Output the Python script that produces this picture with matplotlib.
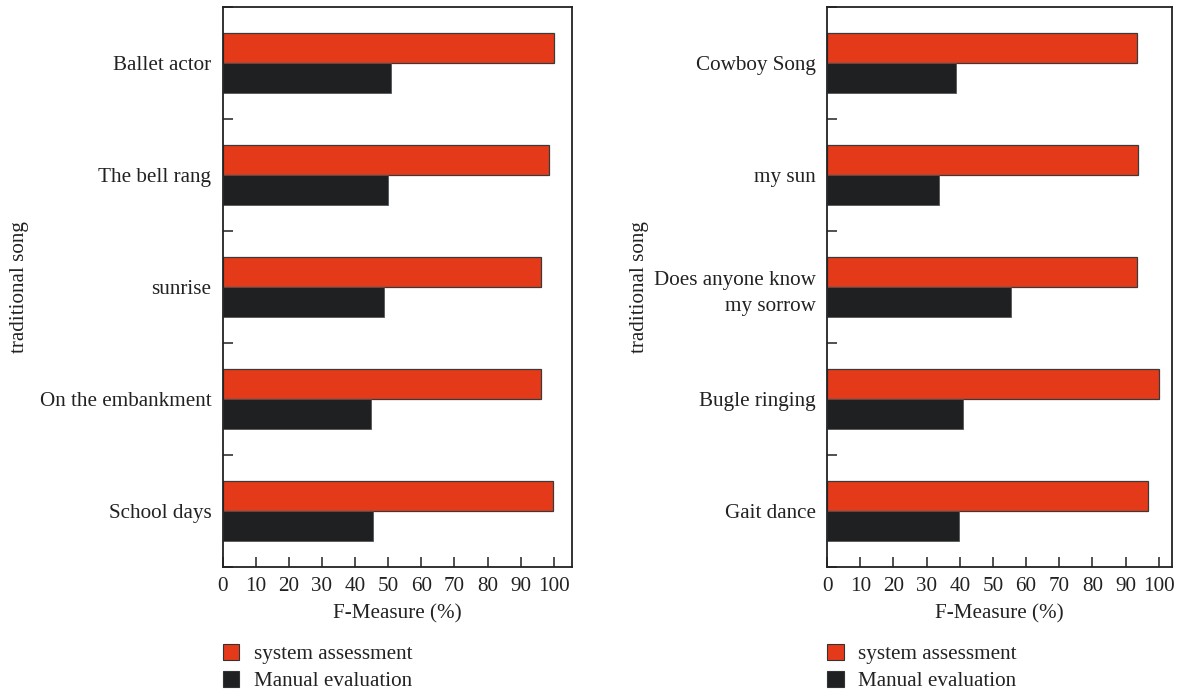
import matplotlib
matplotlib.use("Agg")
import matplotlib.pyplot as plt
import numpy as np
from matplotlib.patches import Patch

plt.rcParams['font.family'] = ['Liberation Serif', 'DejaVu Serif']

left_songs = ["Ballet actor", "The bell rang", "sunrise", "On the embankment", "School days"]
left_system = [100.0, 98.5, 96.2, 96.2, 99.7]
left_manual = [50.9, 50.1, 48.7, 44.7, 45.4]

right_songs = ["Cowboy Song", "my sun", "Does anyone know\nmy sorrow", "Bugle ringing", "Gait dance"]
right_system = [93.5, 93.9, 93.5, 100.0, 96.7]
right_manual = [38.9, 33.7, 55.4, 41.0, 39.7]

xticks = [0, 10, 20, 30, 40, 50, 60, 70, 80, 90, 100]
series_labels = ["system assessment", "Manual evaluation"]

RED = "#E53A19"
BLACK = "#1F2022"
FS = 15.2

fig = plt.figure(figsize=(11.79, 6.92), dpi=100)
axL = fig.add_axes([0.1888, 0.1806, 0.4854 - 0.1888, 0.8093])
axR = fig.add_axes([0.7016, 0.1806, 0.9943 - 0.7016, 0.8093])


def draw(ax, songs, sys_vals, man_vals, xmax, ylab_x):
    n = len(songs)
    y = np.arange(n)[::-1].astype(float)
    h = 0.268
    ax.barh(y + h / 2, sys_vals, height=h, color=RED, edgecolor="#3a3a3a", linewidth=0.9)
    ax.barh(y - h / 2, man_vals, height=h, color=BLACK, edgecolor="#555555", linewidth=0.6)
    ax.set_ylim(-0.5, n - 0.5)
    ax.set_xlim(0, xmax)
    ax.set_yticks(y)
    ax.set_yticklabels(songs, fontsize=FS, linespacing=1.55)
    ax.set_yticks(np.arange(n + 1) - 0.5, minor=True)
    ax.tick_params(axis='y', which='major', length=0, pad=8)
    ax.tick_params(axis='y', which='minor', direction='in', length=7, width=1.2, color='#333333')
    ax.set_xticks(xticks)
    ax.set_xticklabels([str(t) for t in xticks], fontsize=FS, color='#222222')
    ax.tick_params(axis='x', direction='in', length=7, width=1.2, pad=7, color='#333333')
    ax.set_xlabel("F-Measure (%)", fontsize=FS, color='#222222', labelpad=6)
    ax.set_ylabel("traditional song", fontsize=FS, color='#222222')
    ax.yaxis.set_label_coords(ylab_x, 0.5)
    for s in ax.spines.values():
        s.set_linewidth(1.3)
        s.set_color('#222222')
    for lab in ax.get_yticklabels():
        lab.set_color('#222222')
    handles = [Patch(facecolor=RED, edgecolor='#333333', linewidth=0.8),
               Patch(facecolor=BLACK, edgecolor='#333333', linewidth=0.8)]
    ax.legend(handles, series_labels, loc='upper left', bbox_to_anchor=(0.0, -0.137),
              frameon=False, fontsize=FS, handlelength=0.78, handleheight=0.78,
              handletextpad=0.7, labelspacing=0.33, borderaxespad=0, borderpad=0,
              labelcolor='#222222')


draw(axL, left_songs, left_system, left_manual, 105.6, -0.555)
draw(axR, right_songs, right_system, right_manual, 104.1, -0.515)

fig.savefig("out.png", dpi=100)
